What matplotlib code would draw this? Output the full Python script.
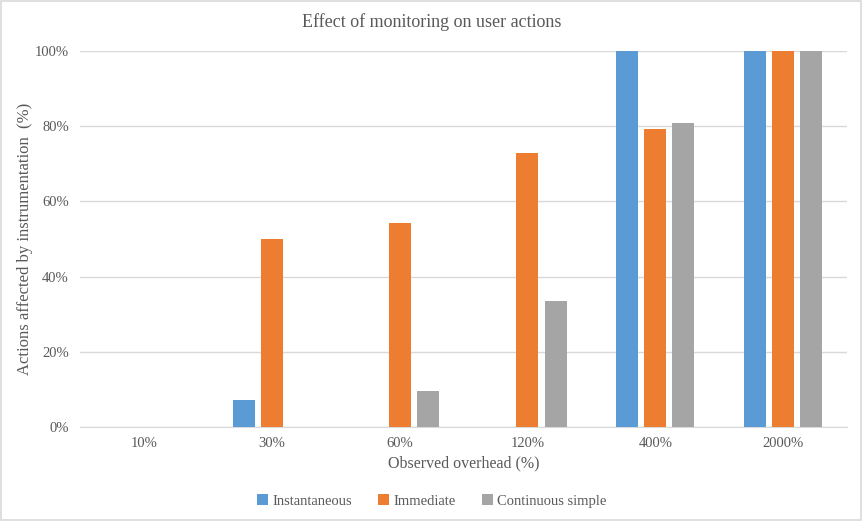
import numpy as np
import matplotlib.pyplot as plt
from matplotlib.patches import Rectangle
from matplotlib.ticker import PercentFormatter

plt.rcParams['font.family'] = ['Liberation Serif', 'DejaVu Serif']

# data
overheads = ['10%', '30%', '60%', '120%', '400%', '2000%']
instantaneous = [0, 7.2, 0, 0, 100, 100]
immediate = [0, 50.0, 54.3, 72.8, 79.2, 100]
continuous = [0, 0, 9.6, 33.5, 80.8, 100]
series_names = ['Instantaneous', 'Immediate', 'Continuous simple']
colors = ['#5b9bd5', '#ed7d31', '#a5a5a5']
text_col = '#595959'

fig = plt.figure(figsize=(8.63, 5.21), dpi=100)
ax = fig.add_axes([0.0927, 0.1804, 0.8888, 0.7217])

x = np.arange(len(overheads))
w = 0.172
step = 0.22
for i, (vals, name, c) in enumerate(zip([instantaneous, immediate, continuous], series_names, colors)):
    ax.bar(x + (i - 1) * step, vals, width=w, color=c, label=name, zorder=3)

ax.set_xlim(-0.5, len(overheads) - 0.5)
ax.set_ylim(0, 100)
ax.set_yticks(np.arange(0, 101, 20))
ax.yaxis.set_major_formatter(PercentFormatter(decimals=0))
ax.set_xticks(x)
ax.set_xticklabels(overheads)
ax.grid(axis='y', color='#d9d9d9', linewidth=1, zorder=0)
for s in ['top', 'right', 'left']:
    ax.spines[s].set_visible(False)
ax.spines['bottom'].set_color('#d9d9d9')
ax.tick_params(length=0, labelsize=10.5, colors=text_col)
ax.tick_params(axis='x', pad=7)
ax.tick_params(axis='y', pad=8)

ax.set_xlabel('Observed overhead (%)', fontsize=11.5, color=text_col, labelpad=4)
ax.set_ylabel('Actions affected by instrumentation  (%)', fontsize=12, color=text_col, labelpad=1)
fig.text(0.5, 0.958, 'Effect of monitoring on user actions', ha='center', va='center',
         fontsize=13, color=text_col)

leg = fig.legend(loc='center', bbox_to_anchor=(0.5, 0.038), ncol=3, frameon=False,
                 fontsize=10.5, handlelength=0.75, handleheight=0.75, handletextpad=0.3,
                 columnspacing=1.8)
for t in leg.get_texts():
    t.set_color(text_col)

fig.patches.append(Rectangle((0.001, 0.002), 0.997, 0.996, transform=fig.transFigure,
                             fill=False, edgecolor='#d9d9d9', linewidth=1.2))

fig.savefig('out.png', dpi=100)
